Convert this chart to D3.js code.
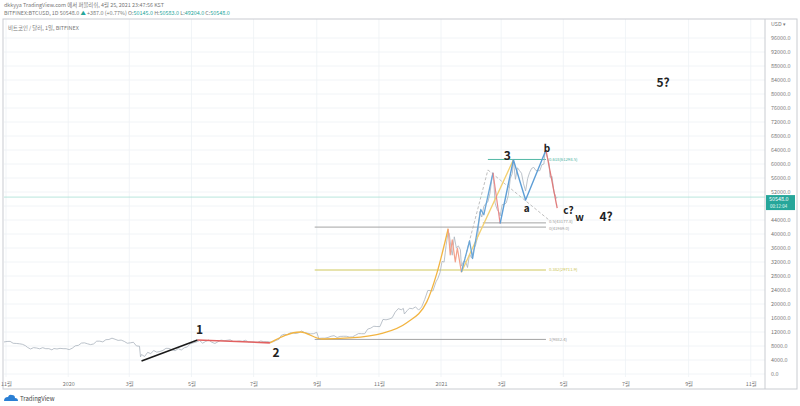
<!DOCTYPE html>
<html><head><meta charset="utf-8">
<script src="https://cdn.jsdelivr.net/npm/d3@7"></script>
<style>body{margin:0;background:#fff}svg{display:block}text{font-family:"Noto Sans CJK KR","Noto Sans",sans-serif}</style>
</head><body><svg id="c" width="800" height="406"></svg>
<script>
// ---------- DATA ----------
const priceDates = ["2019-10-30","2019-11-02","2019-11-05","2019-11-08","2019-11-11","2019-11-14","2019-11-17","2019-11-20","2019-11-22","2019-11-25","2019-11-28","2019-12-01","2019-12-04","2019-12-07","2019-12-10","2019-12-13","2019-12-16","2019-12-18","2019-12-21","2019-12-24","2019-12-27","2019-12-30","2020-01-02","2020-01-05","2020-01-08","2020-01-11","2020-01-14","2020-01-17","2020-01-20","2020-01-23","2020-01-26","2020-01-29","2020-02-01","2020-02-04","2020-02-07","2020-02-10","2020-02-13","2020-02-16","2020-02-19","2020-02-22","2020-02-25","2020-02-28","2020-03-02","2020-03-05","2020-03-08","2020-03-11","2020-03-12","2020-03-13","2020-03-16","2020-03-19","2020-03-22","2020-03-25","2020-03-28","2020-03-31","2020-04-03","2020-04-06","2020-04-09","2020-04-12","2020-04-15","2020-04-18","2020-04-21","2020-04-24","2020-04-27","2020-04-30","2020-05-03","2020-05-06","2020-05-09","2020-05-12","2020-05-15","2020-05-18","2020-05-21","2020-05-24","2020-05-27","2020-05-30","2020-06-02","2020-06-05","2020-06-08","2020-06-11","2020-06-14","2020-06-17","2020-06-20","2020-06-23","2020-06-26","2020-06-29","2020-07-02","2020-07-05","2020-07-08","2020-07-11","2020-07-14","2020-07-17","2020-07-20","2020-07-23","2020-07-26","2020-07-28","2020-07-31","2020-08-03","2020-08-06","2020-08-09","2020-08-12","2020-08-15","2020-08-17","2020-08-20","2020-08-23","2020-08-26","2020-08-29","2020-09-01","2020-09-03","2020-09-06","2020-09-09","2020-09-12","2020-09-15","2020-09-18","2020-09-21","2020-09-24","2020-09-27","2020-09-30","2020-10-03","2020-10-06","2020-10-09","2020-10-12","2020-10-15","2020-10-18","2020-10-21","2020-10-24","2020-10-27","2020-10-30","2020-11-02","2020-11-05","2020-11-08","2020-11-11","2020-11-14","2020-11-17","2020-11-20","2020-11-23","2020-11-25","2020-11-26","2020-11-29","2020-12-01","2020-12-04","2020-12-07","2020-12-10","2020-12-13","2020-12-16","2020-12-19","2020-12-22","2020-12-24","2020-12-27","2020-12-29","2020-12-31","2021-01-02","2021-01-04","2021-01-06","2021-01-08","2021-01-09","2021-01-11","2021-01-12","2021-01-14","2021-01-16","2021-01-18","2021-01-20","2021-01-21","2021-01-23","2021-01-25","2021-01-27","2021-01-29","2021-01-31","2021-02-02","2021-02-04","2021-02-06","2021-02-08","2021-02-10","2021-02-12","2021-02-14","2021-02-16","2021-02-18","2021-02-20","2021-02-21","2021-02-22","2021-02-23","2021-02-25","2021-02-27","2021-02-28","2021-03-02","2021-03-04","2021-03-06","2021-03-08","2021-03-10","2021-03-12","2021-03-13","2021-03-15","2021-03-17","2021-03-19","2021-03-21","2021-03-23","2021-03-25","2021-03-27","2021-03-29","2021-03-31","2021-04-02","2021-04-04","2021-04-06","2021-04-08","2021-04-10","2021-04-12","2021-04-13","2021-04-14","2021-04-16","2021-04-17","2021-04-18","2021-04-20","2021-04-21","2021-04-22","2021-04-23","2021-04-24","2021-04-25"];
const priceCloses = [9150,9300,9320,8780,8730,8640,8500,8100,7620,7150,7530,7420,7200,7520,7230,7250,6900,7280,7150,7330,7240,7230,6960,7370,8050,8180,8830,8900,8630,8390,8600,9380,9380,9170,9800,9860,10240,9930,9600,9690,9320,8790,8900,9070,8030,7930,4900,5570,5000,6190,5830,6690,6240,6430,6740,7340,7300,6910,6640,7250,6850,7500,7750,8650,8900,9150,9550,8800,9320,9700,9070,8720,9200,9700,9520,9630,9770,9280,9330,9450,9350,9630,9160,9180,9100,9080,9430,9230,9250,9150,9170,9600,9930,11000,11350,11230,11760,11680,11580,11860,12280,11860,11660,11480,11530,11920,10170,10250,10240,10440,10790,10950,10420,10740,10780,10780,10560,10600,11060,11550,11510,11500,12820,13110,13650,13560,13550,15590,15480,15700,16070,17680,18680,18360,18740,17150,18190,18780,18650,19180,18250,19170,21310,23860,23830,23720,26300,27370,28990,32190,31970,36770,40580,40250,35500,33950,39200,36050,36600,35470,30830,32090,32250,30430,34300,33110,35510,36930,39250,46400,44850,47900,48720,49200,51600,56000,57480,54100,48890,47070,46200,45160,48390,48400,48880,50970,55880,57330,61200,55620,58920,58120,57350,54340,52300,55820,57620,58760,59030,58200,58050,58100,59800,60000,63500,63000,61400,60000,56200,56450,53790,51700,51150,50160,50548];

const yTickValues = [0,4000,8000,12000,16000,20000,24000,28000,32000,36000,40000,44000,48000,52000,56000,60000,64000,68000,72000,76000,80000,84000,88000,92000,96000];
const yLabelValues = [0,4000,8000,12000,16000,20000,24000,28000,32000,36000,40000,44000,52000,56000,60000,64000,68000,72000,76000,80000,84000,88000,92000,96000];
const xTickDates = ["2019-11-01","2020-01-01","2020-03-01","2020-05-01","2020-07-01","2020-09-01","2020-11-01","2021-01-01","2021-03-01","2021-05-01","2021-07-01","2021-09-01","2021-11-01"];
const xTickLabels = ["11월","2020","3월","5월","7월","9월","11월","2021","3월","5월","7월","9월","11월"];

const wave1Line = [["2020-03-13",3700],["2020-05-07",9700]];
const wave2Line = [["2020-05-07",9700],["2020-07-17",8900]];
const wave3Curve = [["2020-07-17",8900],["2020-08-16",12000],["2020-09-06",10000],["2020-10-03",10300],["2020-11-05",11700],["2020-11-28",14600],["2020-12-18",20600],["2020-12-28",28900],["2021-01-08",41500]];
const correctionLegs = [["2021-01-08",41500],["2021-01-10",34000],["2021-01-12",38300],["2021-01-15",32000],["2021-01-17",36000],["2021-01-21",29100]];
const blueLegs1 = [["2021-01-21",29100],["2021-01-29",38000],["2021-02-01",33000],["2021-02-09",47000],["2021-02-12",45500],["2021-02-21",57500]];
const redLeg1 = [["2021-02-21",57500],["2021-02-28",43000]];
const blueLegs2 = [["2021-02-28",43000],["2021-03-13",61200],["2021-03-25",49700],["2021-04-14",64000]];
const redLeg2 = [["2021-04-14",64000],["2021-04-25",47400]];
const yellowDiag = [["2021-01-21",29100],["2021-03-13",61200]];
const dashedA = [["2021-01-21",29100],["2021-02-16",58300]];
const dashedB = [["2021-02-16",58300],["2021-04-17",44000]];

const fibLabels = ["1(9882.4)","0.382(29711.9)","0(41969.0)","0.5(43177.8)","0.618(61298.5)"];
const fibPrices = [9882.4,29711.9,41969.0,43177.8,61298.5];
const fibStart = ["2020-08-30","2020-08-30","2020-08-30","2021-02-11","2021-02-16"];
const fibEnd = ["2021-04-14","2021-04-14","2021-04-14","2021-04-14","2021-04-14"];
const fibColors = ["#9a9a9a","#c9c24a","#9a9a9a","#9a9a9a","#3fb09c"];

const waveText = ["1","2","3","a","b","c?","w","4?","5?"];
const waveDates = ["2020-05-09","2020-07-23","2021-03-07","2021-03-26","2021-04-15","2021-05-06","2021-05-17","2021-06-12","2021-08-07"];
const wavePrices = [12600,6000,62300,47400,64300,46700,44600,44900,83100];
const waveSizes = [12,12,12,10,10,10,10,12,12];

const lastPrice = 50548.0;

// ---------- CHART ----------
const svg = d3.select("#c");
const P = d3.utcParse("%Y-%m-%d");
const L = 4, R = 765, T = 19, B = 389;
const x = d3.scaleUtc().domain([P("2019-10-30"), P("2021-11-15")]).range([L, R]);
const y = d3.scaleLinear().domain([0, 100000]).range([374, 24]);

svg.append("rect").attr("width",800).attr("height",406).attr("fill","#fff");

// header
const hdr = svg.append("g").attr("font-size",5.4).attr("fill","#777");
hdr.append("text").attr("x",4).attr("y",7).text("dkkyya TradingView.com 에서 퍼블리쉬, 4월 25, 2021 23:47:56 KST");
const h2 = hdr.append("text").attr("x",4).attr("y",15);
h2.append("tspan").text("BITFINEX:BTCUSD, 1D 50548.0 ");
h2.append("tspan").attr("fill","#26a69a").text("▲");
h2.append("tspan").text(" +387.0 (+0.77%) O:");
h2.append("tspan").attr("fill","#26a69a").text("50145.0");
h2.append("tspan").text(" H:");
h2.append("tspan").attr("fill","#26a69a").text("50583.0");
h2.append("tspan").text(" L:");
h2.append("tspan").attr("fill","#26a69a").text("49204.0");
h2.append("tspan").text(" C:");
h2.append("tspan").attr("fill","#26a69a").text("50548.0");

// grid
const grid = svg.append("g");
grid.selectAll("line.h").data(yTickValues).join("line")
  .attr("x1",L).attr("x2",R).attr("y1",d=>y(d)).attr("y2",d=>y(d))
  .attr("stroke","#eef1f5").attr("stroke-width",0.8);
grid.selectAll("line.v").data(xTickDates).join("line")
  .attr("x1",d=>x(P(d))).attr("x2",d=>x(P(d))).attr("y1",T).attr("y2",377)
  .attr("stroke","#eef1f5").attr("stroke-width",0.8);

// frame
svg.append("rect").attr("x",3).attr("y",T).attr("width",794).attr("height",B-T)
  .attr("fill","none").attr("stroke","#c9ccd1").attr("stroke-width",1);
svg.append("line").attr("x1",R).attr("x2",R).attr("y1",T).attr("y2",B).attr("stroke","#c9ccd1");
svg.append("text").attr("x",8).attr("y",30).attr("font-size",5.4).attr("fill","#777").text("비트코인 / 달러, 1일, BITFINEX");

svg.append("defs").append("clipPath").attr("id","clip").append("rect")
  .attr("x",L).attr("y",T).attr("width",R-L).attr("height",B-T);
const plot = svg.append("g").attr("clip-path","url(#clip)");

// current price line
plot.append("line").attr("x1",L).attr("x2",R).attr("y1",y(lastPrice)).attr("y2",y(lastPrice))
  .attr("stroke","#a8e0d6").attr("stroke-width",0.8);

// fib lines
const fibDy = [0,0,1.6,-1.6,0];
fibPrices.forEach((p,i)=>{
  plot.append("line").attr("x1",x(P(fibStart[i]))).attr("x2",x(P(fibEnd[i])))
    .attr("y1",y(p)).attr("y2",y(p)).attr("stroke",fibColors[i]).attr("stroke-width",0.9);
  plot.append("text").attr("x",x(P(fibEnd[i]))+3).attr("y",y(p)+fibDy[i]).attr("dy","0.35em")
    .attr("font-size",4.2).attr("fill",fibColors[i]).text(fibLabels[i]);
});

// price line
const line = d3.line().x(d=>x(P(d[0]))).y(d=>y(d[1]));
const priceData = priceDates.map((d,i)=>[d, priceCloses[i]]);
plot.append("path").datum(priceData).attr("d",line).attr("fill","none")
  .attr("stroke","#aab3bd").attr("stroke-width",0.8);

function seg(data, color, w, dash, curve){
  const g = d3.line().x(d=>x(P(d[0]))).y(d=>y(d[1]));
  if (curve) g.curve(curve);
  plot.append("path").datum(data).attr("d",g).attr("fill","none")
    .attr("stroke",color).attr("stroke-width",w).attr("stroke-dasharray",dash||null)
    .attr("stroke-linejoin","round");
}
seg(dashedA,"#b8b8b8",0.9,"3,2");
seg(dashedB,"#b8b8b8",0.9,"3,2");
seg(wave3Curve,"#f2b441",1.3,null,d3.curveMonotoneX);
seg(wave1Line,"#1a1a1a",1.6);
seg(wave2Line,"#e26060",1.6);
seg(correctionLegs,"#f2a08a",1.2);
seg(yellowDiag,"#f3d070",1.3);
seg(blueLegs1,"#6aa6d8",1.3);
seg(redLeg1,"#e98a8a",1.2);
seg(blueLegs2,"#5e9ed6",1.4);
seg(redLeg2,"#e07a7a",1.3);

// wave labels
waveText.forEach((t,i)=>{
  svg.append("text").attr("x",x(P(waveDates[i]))).attr("y",y(wavePrices[i])).attr("dy","0.35em")
    .attr("text-anchor","middle").attr("font-size",waveSizes[i]).attr("font-weight","bold")
    .attr("font-family","'Open Sans','Noto Sans',sans-serif").attr("fill","#222").text(t);
});

// y axis
const yAxis = svg.append("g").attr("transform",`translate(${R+4},0)`)
  .call(d3.axisRight(y).tickValues(yLabelValues).tickSize(0).tickFormat(d3.format(".1f")));
yAxis.select(".domain").remove();
yAxis.selectAll("text").attr("font-size",5.4).attr("fill","#777").attr("x",2)
  .attr("font-family","'Noto Sans',sans-serif");
svg.append("text").attr("x",R+6).attr("y",y(100000)).attr("dy","0.35em").attr("font-size",5.4)
  .attr("fill","#777").text("USD ▾");

// price box
const by = y(lastPrice);
svg.append("rect").attr("x",R+1).attr("y",by-2).attr("width",29).attr("height",15).attr("fill","#26a69a");
svg.append("text").attr("x",R+4).attr("y",by+4).attr("font-size",5.4).attr("fill","#fff").text(d3.format(".1f")(lastPrice));
svg.append("text").attr("x",R+5).attr("y",by+11).attr("font-size",4.4).attr("fill","#e6fff9").text("00:12:04");

// x axis
const xAxis = svg.append("g").attr("transform","translate(0,379)")
  .call(d3.axisBottom(x).tickValues(xTickDates.map(P)).tickSize(0).tickFormat((d,i)=>xTickLabels[i]));
xAxis.select(".domain").remove();
xAxis.selectAll("text").attr("font-size",5.4).attr("fill","#777");

// logo
const logo = svg.append("g").attr("transform","translate(4,395)");
logo.append("path").attr("d","M0,6 Q0,2 4,2 Q5,-1 8,0 Q11,0 11,3 Q14,3 14,6 Z").attr("fill","#2a7fd4");
svg.append("text").attr("x",20).attr("y",401).attr("font-size",6).attr("fill","#444").text("TradingView");
</script></body></html>
